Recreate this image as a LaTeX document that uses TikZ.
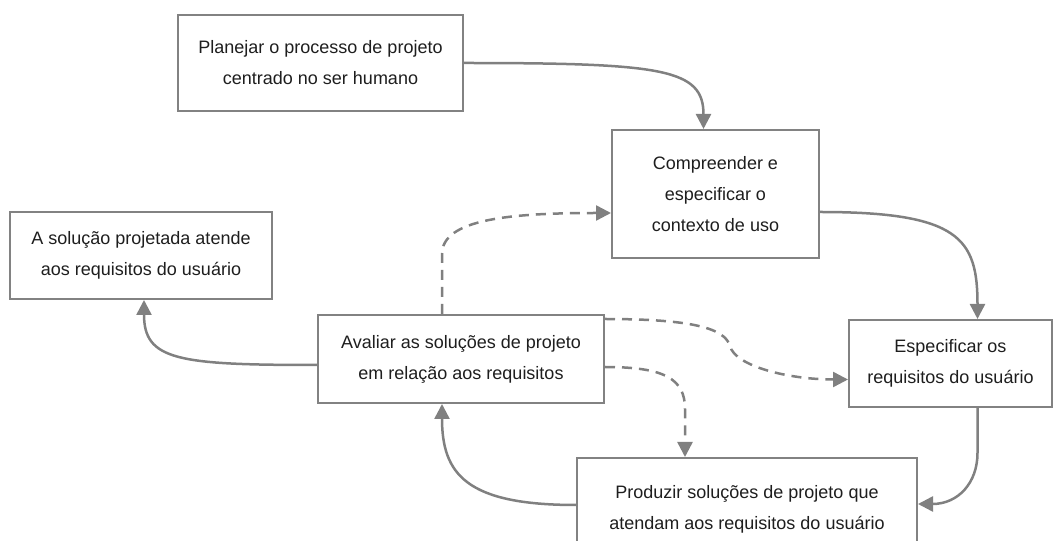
\documentclass[tikz,border=0pt]{standalone}
\usepackage{fontspec}
\setmainfont{Liberation Sans}
\usetikzlibrary{arrows.meta}
\definecolor{linegray}{RGB}{128,128,128}
\definecolor{boxgray}{RGB}{130,130,130}
\definecolor{txtgray}{RGB}{30,30,30}
\tikzset{
    stepbox/.style={draw=boxgray, line width=2pt, fill=white, align=center, inner sep=0pt,
        text=txtgray, font=\fontsize{18}{31}\selectfont},
    flow/.style={draw=linegray, line width=2.5pt, -{Triangle[length=15pt,width=15pt]}},
    maybe/.style={flow, dash pattern=on 10pt off 7pt}
}
\begin{document}
\begin{tikzpicture}[x=1pt,y=1pt]
    \useasboundingbox (0,0) rectangle (1053,541);
    % boxes
    \node[stepbox, minimum width=285pt, minimum height=96pt] (plan) at (320.5,478) {Planejar o processo de projeto\\centrado no ser humano};
    \node[stepbox, minimum width=207pt, minimum height=128pt] (ctx) at (715.5,347) {Compreender e\\especificar o\\contexto de uso};
    \node[stepbox, minimum width=262pt, minimum height=87pt] (meets) at (141,285.5) {A solução projetada atende\\aos requisitos do usuário};
    \node[stepbox, minimum width=286pt, minimum height=88pt] (eval) at (461,182) {Avaliar as soluções de projeto\\em relação aos requisitos};
    \node[stepbox, minimum width=203pt, minimum height=87pt] (req) at (950.5,177.5) {Especificar os\\requisitos do usuário};
    \node[stepbox, minimum width=340pt, minimum height=102pt] (prod) at (747,32) {Produzir soluções de projeto que\\atendam aos requisitos do usuário};
    % main cycle
    \draw[flow] (plan.east) .. controls +(200,0) and +(0,60) .. ([xshift=-12pt]ctx.north);
    \draw[flow] ([yshift=-18pt]ctx.east) .. controls +(140,0) and +(0,80) .. ([xshift=27pt]req.north);
    \draw[flow] ([xshift=27pt]req.south) -- ++(0,-45) .. controls +(0,-30) and +(40,0) .. ([yshift=5pt]prod.east);
    \draw[flow] ([yshift=4pt]prod.west) .. controls +(-110,0) and +(0,-70) .. ([xshift=-19pt]eval.south);
    \draw[flow] ([yshift=-6pt]eval.west) .. controls +(-140,0) and +(0,-60) .. ([xshift=3pt]meets.south);
    % feedback from evaluation
    \coordinate (bend) at (730,195);
    \draw[maybe] ([xshift=-19pt]eval.north) -- ++(0,60) .. controls +(0,35) and +(-100,0) .. ([yshift=-19pt]ctx.west);
    \draw[maybe] ([yshift=-5pt]eval.north east) .. controls +(90,0) and +(-5,17) .. (bend)
        .. controls +(5,-20) and +(-60,0) .. ([yshift=-16pt]req.west);
    \draw[maybe] ([yshift=-8pt]eval.east) .. controls +(60,0) and +(0,30) .. ([xshift=-62pt,yshift=48pt]prod.north) -- ([xshift=-62pt]prod.north);
\end{tikzpicture}
\end{document}
